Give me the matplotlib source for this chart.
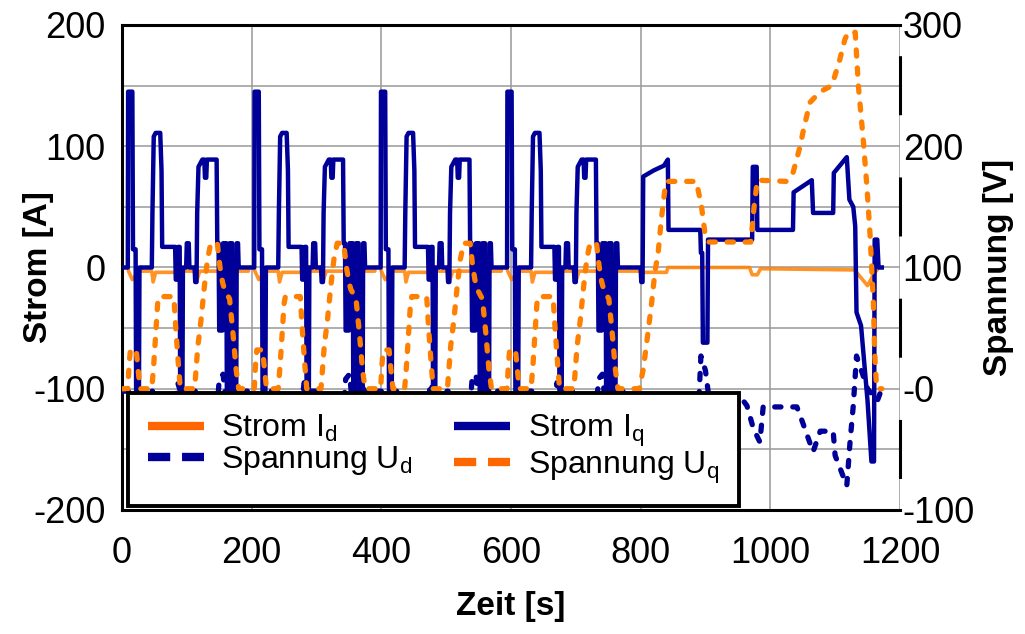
import matplotlib
matplotlib.use('Agg')
import numpy as np
import matplotlib.pyplot as plt
from matplotlib.lines import Line2D

plt.rcParams['font.family'] = ['Liberation Sans', 'DejaVu Sans']
plt.rcParams['mathtext.fontset'] = 'custom'
plt.rcParams['mathtext.rm'] = 'Liberation Sans'
plt.rcParams['lines.scale_dashes'] = False
plt.rcParams['axes.unicode_minus'] = False

# --- data ----------------------------------------------------------------
# one urban (ECE) sub-cycle, times relative to its start [s]
CYCLE_STARTS = [0, 195, 390, 585]

ECE_T_IQ = [0, 9, 9.5, 16, 17, 21, 22, 26, 27, 46, 47, 49, 52, 59, 61, 62, 82, 83, 86, 87,
            89, 90, 93, 94, 99, 100, 103, 104, 112, 113, 115, 116, 118, 124, 127, 128, 130,
            131, 146, 147, 149, 150, 155, 156, 161, 162, 165, 166, 170, 171, 176, 177, 179,
            180, 195]
ECE_IQ = [0, 0, 145, 145, 15, 15, -125, -125, 0, 0, 45, 108, 111, 111, 80, 17, 17, -10, -10, 17,
          17, -140, -140, 0, 0, 20, 20, 0, 0, -12, -12, 45, 83, 89, 89, 74, 74,
          89, 89, 20, 20, -52, -52, 20, 20, -140, -140, 20, 20, -150, -150, 20, 20,
          0, 0]

ECE_T_UQ = [0, 9, 11, 13, 22, 25, 28, 46, 49, 52, 55, 57, 80, 83, 87, 90, 112, 117, 122, 127,
            132, 137, 147, 151, 155, 158, 166, 171, 176, 180, 195]
ECE_UQ = [0, 0, 20, 32, 32, 15, 0, 0, 20, 45, 70, 76, 76, 50, 20, 0, 0, 35, 57, 84,
          107, 120, 120, 101, 88, 82, 74, 47, 16, 0, 0]

ECE_T_UD = [0, 10, 14, 22, 24, 27, 47, 52, 82, 86, 90, 113, 120, 147, 150, 156, 160, 165,
            172, 178, 195]
ECE_UD = [-2, -2, -10, -10, 2, -2, -2, -12, -12, 5, -2, -2, -15, -15, 8, 12, -10, 5,
          10, -2, -2]

ECE_T_ID = [0, 9, 10, 16, 22, 27, 46, 48, 52, 82, 86, 94, 112, 116, 120, 150, 160, 180, 195]
ECE_ID = [0, 0, -3, -10, -6, -3, -3, -12, -4, -4, -8, -3, -3, -10, -3, -3, -6, -3, -3]

# extra-urban part (EUDC), absolute times [s]
EUDC_T_IQ = [780, 800, 801, 803, 804, 820, 836, 842, 843, 892, 893, 895, 896, 903, 904, 972,
             973, 979, 980, 1035, 1036, 1064, 1066, 1097, 1098, 1118, 1122, 1128, 1131, 1133,
             1140, 1144, 1150, 1156, 1160, 1161, 1165, 1167, 1172]
EUDC_IQ = [0, 0, -12, -12, 75, 80, 84, 89, 31, 31, 12, 12, -62, -62, 23, 23,
           83, 83, 31, 31, 62, 72, 45, 45, 78, 91, 56, 50, 34, -37,
           -48, -73, -110, -160, -160, 23, 23, 0, 0]

EUDC_T_UQ = [780, 798, 804, 812, 817, 822, 827, 832, 838, 840, 886, 894, 899, 905, 970, 975,
             980, 1025, 1035, 1046, 1051, 1061, 1077, 1095, 1107, 1115, 1120, 1131, 1136,
             1143, 1149, 1154, 1159, 1161, 1164, 1172]
EUDC_UQ = [0, 0, 16, 49, 71, 96, 112, 140, 167, 171, 171, 150, 129, 121, 121, 150,
           172, 171, 178, 200, 213, 236, 245, 250, 271, 288, 294, 294, 249,
           208, 167, 126, 71, 30, 0, 0]

EUDC_T_UD = [780, 890, 893, 900, 906, 950, 953, 964, 974, 984, 989, 1041, 1050, 1066, 1077,
             1097, 1100, 1118, 1123, 1128, 1133, 1150, 1165, 1172]
EUDC_UD = [-8, -8, 27, 15, -10, -5, -6, -14, -33, -44, -15, -15, -28, -52, -35,
           -35, -55, -80, -44, -14, 27, 0, -10, 0]

EUDC_T_ID = [780, 800, 805, 840, 842, 968, 972, 980, 985, 1130, 1150, 1160, 1168, 1172]
EUDC_ID = [-3, -3, -4, -4, 0, 0, -6, -6, -1, -2, -15, -5, 0, 0]

X_TICKS = [0, 200, 400, 600, 800, 1000, 1200]
LEFT_TICKS = [-200, -100, 0, 100, 200]
RIGHT_TICKS = [-100, 0, 100, 200, 300]
RIGHT_LABELS = ['-100', '-0', '100', '200', '300']

NAVY = '#000099'
ORANGE = '#FF8000'
ORANGE_LEG = '#FF6600'


def full_series(t_rel, vals, t_eudc, v_eudc):
    """Chain the four urban sub-cycles and the extra-urban part."""
    t_all, v_all = [], []
    for start in CYCLE_STARTS:
        t_all += [start + t for t in t_rel]
        v_all += list(vals)
    t_all += list(t_eudc)
    v_all += list(v_eudc)
    return np.array(t_all), np.array(v_all)


t_iq, iq = full_series(ECE_T_IQ, ECE_IQ, EUDC_T_IQ, EUDC_IQ)
t_id, i_d = full_series(ECE_T_ID, ECE_ID, EUDC_T_ID, EUDC_ID)
t_uq, uq = full_series(ECE_T_UQ, ECE_UQ, EUDC_T_UQ, EUDC_UQ)
t_ud, ud = full_series(ECE_T_UD, ECE_UD, EUDC_T_UD, EUDC_UD)

# --- figure ---------------------------------------------------------------
fig = plt.figure(figsize=(10.25, 6.34), dpi=100)
ax = fig.add_axes([0.119, 0.1956, 0.759, 0.765])
ax2 = ax.twinx()

# currents (left axis)
ax.plot(t_id, i_d, color=ORANGE, lw=2.6, alpha=0.85, zorder=2)
ax.plot(t_iq, iq, color=NAVY, lw=3.2, zorder=3)

# voltages (right axis)
ax2.plot(t_ud, ud, color=NAVY, lw=3.8, dashes=(4.5, 8.5), dash_capstyle='round', zorder=2)
ax2.plot(t_uq, uq, color=ORANGE, lw=3.8, dashes=(4.5, 8.5), dash_capstyle='round', zorder=3)

ax.set_xlim(0, 1200)
ax.set_ylim(-200, 200)
ax2.set_ylim(-100, 300)

ax.set_xticks(X_TICKS)
ax.set_yticks(LEFT_TICKS)
ax.set_yticks([-150, -50, 50, 150], minor=True)
ax2.set_yticks(RIGHT_TICKS)
ax2.set_yticklabels(RIGHT_LABELS)

ax.set_axisbelow(True)
ax.grid(True, which='both', color='#999999', lw=1.1)

ax.tick_params(axis='both', which='both', length=0, labelsize=26)
ax.tick_params(axis='x', pad=19)
ax.tick_params(axis='y', pad=12)
ax2.tick_params(axis='y', length=0, labelsize=26, pad=2)

# frame
for side in ['left', 'top', 'bottom']:
    ax.spines[side].set_linewidth(2.2)
    ax.spines[side].set_color('black')
    ax2.spines[side].set_visible(False)
ax.spines['right'].set_visible(False)
# broken right axis line (gaps around the labelled ticks)
ax2.spines['right'].set_linewidth(2.2)
ax2.spines['right'].set_linestyle((63.5, (40.3, 47.0)))

# labels
ax.set_xlabel('Zeit [s]', fontsize=24, fontweight='bold')
ax.set_ylabel('Strom [A]', fontsize=24, fontweight='bold')
ax2.set_ylabel('Spannung [V]', fontsize=24, fontweight='bold')
ax.xaxis.set_label_coords(0.5, -0.168)
ax.yaxis.set_label_coords(-0.088, 0.5)
ax2.yaxis.set_label_coords(1.107, 0.5)

# legend
handles = [
    Line2D([0], [0], color=ORANGE_LEG, lw=6, solid_capstyle='butt'),
    Line2D([0], [0], color=NAVY, lw=6, dashes=(16, 8.5), dash_capstyle='butt'),
    Line2D([0], [0], color=NAVY, lw=6, solid_capstyle='butt'),
    Line2D([0], [0], color=ORANGE_LEG, lw=6, dashes=(16, 8.5), dash_capstyle='butt'),
]
labels = ['Strom I$_\\mathregular{d}$', 'Spannung U$_\\mathregular{d}$',
          'Strom I$_\\mathregular{q}$', 'Spannung U$_\\mathregular{q}$']
leg = ax2.legend(handles, labels, loc='upper left', bbox_to_anchor=(0.0077, 0.241),
                 ncol=2, fontsize=23, frameon=True, fancybox=False, framealpha=1,
                 edgecolor='black', handlelength=1.75, handletextpad=0.55,
                 columnspacing=1.3, labelspacing=0.0, borderpad=0.62,
                 borderaxespad=0)
leg.get_frame().set_linewidth(2.8)
leg.set_zorder(10)

fig.savefig('out.png', dpi=100)
